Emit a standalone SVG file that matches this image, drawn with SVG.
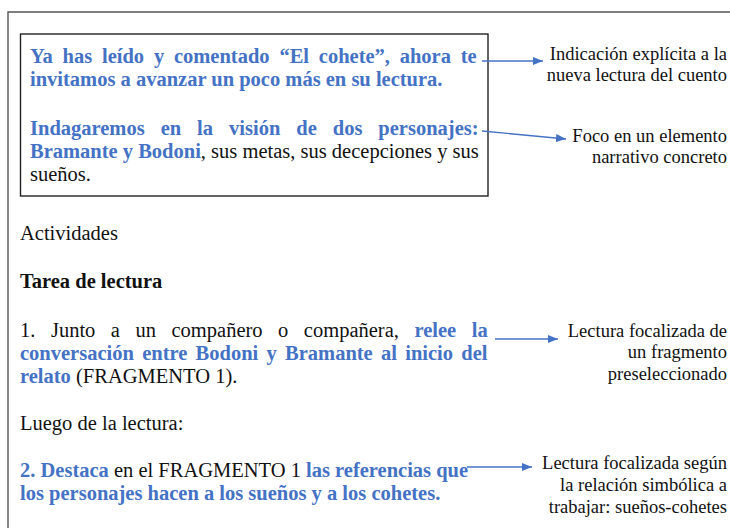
<svg xmlns="http://www.w3.org/2000/svg" width="730" height="528" viewBox="0 0 730 528">
<defs>
<style>
text{font-family:"Liberation Serif","Times New Roman",serif;fill:#111;}
.m{font-size:20.5px;}
.b{font-weight:bold;}
.bl{fill:#4472C4;font-weight:bold;}
.lab{font-size:18.5px;text-anchor:end;}
.frame{fill:none;stroke:#555;stroke-width:1.4;}
.box{fill:none;stroke:#222;stroke-width:1.4;}
.arr{fill:none;stroke:#4472C4;stroke-width:1.3;marker-end:url(#ah);}
</style>
<marker id="ah" viewBox="0 0 10 8" refX="10" refY="4" markerWidth="10" markerHeight="8" markerUnits="userSpaceOnUse" orient="auto">
<path d="M0,0 L10,4 L0,8 Z" fill="#4472C4"/>
</marker>
</defs>
<rect width="730" height="528" fill="#fff"/>
<path class="frame" d="M8,528 V12 H731"/>

<g id="intro-box">
<rect class="box" x="20.5" y="34" width="467.5" height="162"/>
<text class="m bl" x="30" y="63" style="word-spacing:4.66px">Ya has leído y comentado “El cohete”, ahora te</text>
<text class="m bl" x="30" y="86">invitamos a avanzar un poco más en su lectura.</text>
<text class="m bl" x="30" y="135" style="word-spacing:10.85px">Indagaremos en la visión de dos personajes:</text>
<text class="m" x="30" y="158"><tspan class="bl">Bramante y Bodoni</tspan>, sus metas, sus decepciones y sus</text>
<text class="m" x="30" y="181">sueños.</text>
</g>

<g id="activities">
<text class="m" x="20" y="240">Actividades</text>
<text class="m b" x="20" y="288">Tarea de lectura</text>
</g>

<g id="task1">
<text class="m" x="20" y="337" style="word-spacing:10.4px">1. Junto a un compañero o compañera, <tspan class="bl">relee la</tspan></text>
<text class="m bl" x="20" y="360" style="word-spacing:3.15px">conversación entre Bodoni y Bramante al inicio del</text>
<text class="m" x="20" y="383"><tspan class="bl">relato</tspan> (FRAGMENTO 1).</text>
</g>

<g id="after">
<text class="m" x="20" y="430">Luego de la lectura:</text>
</g>

<g id="task2">
<text class="m" x="20" y="477"><tspan class="bl">2. Destaca</tspan> en el FRAGMENTO 1 <tspan class="bl">las referencias que</tspan></text>
<text class="m bl" x="20" y="500">los personajes hacen a los sueños y a los cohetes.</text>
</g>

<g id="label1">
<text class="lab" x="727" y="60">Indicación explícita a la</text>
<text class="lab" x="727" y="81">nueva lectura del cuento</text>
</g>
<g id="label2">
<text class="lab" x="727" y="142">Foco en un elemento</text>
<text class="lab" x="727" y="163">narrativo concreto</text>
</g>
<g id="label3">
<text class="lab" x="727" y="337">Lectura focalizada de</text>
<text class="lab" x="727" y="358">un fragmento</text>
<text class="lab" x="727" y="380">preseleccionado</text>
</g>
<g id="label4">
<text class="lab" x="727" y="469">Lectura focalizada según</text>
<text class="lab" x="727" y="491">la relación simbólica a</text>
<text class="lab" x="727" y="513">trabajar: sueños-cohetes</text>
</g>

<g id="connectors">
<path class="arr" d="M482,61 H543"/>
<path class="arr" d="M482,131 L566,139"/>
<path class="arr" d="M495,339 H558"/>
<path class="arr" d="M467,467 H532"/>
</g>
</svg>
